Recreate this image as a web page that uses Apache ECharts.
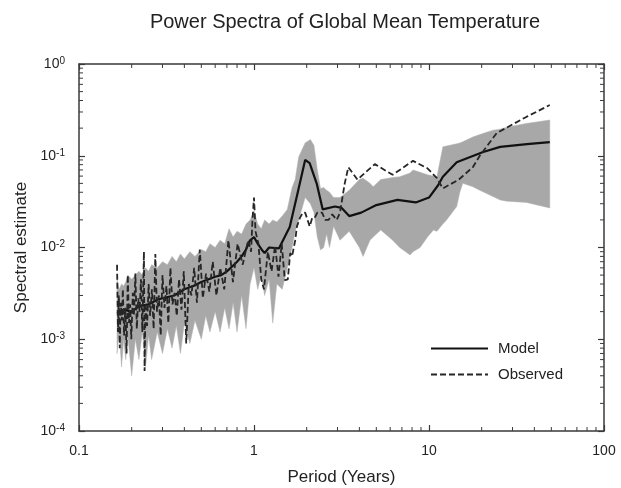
<!DOCTYPE html>
<html>
<head>
<meta charset="utf-8">
<script src="https://cdn.jsdelivr.net/npm/echarts@6/dist/echarts.min.js"></script>
<style>
html,body{margin:0;padding:0;background:#fff;}
#chart{width:621px;height:488px;}
</style>
</head>
<body>
<div id="chart"></div>
<script>
// ---- Data ----
const obsPeriod = [0.165,0.167,0.169,0.171,0.173,0.176,0.178,0.181,0.184,0.187,0.190,0.193,0.196,0.199,0.203,0.206,0.210,0.214,0.218,0.222,0.226,0.230,0.235,0.237,0.240,0.245,0.250,0.255,0.261,0.267,0.273,0.279,0.286,0.293,0.300,0.308,0.316,0.324,0.333,0.342,0.352,0.362,0.373,0.385,0.397,0.410,0.424,0.439,0.455,0.472,0.490,0.510,0.532,0.556,0.581,0.610,0.641,0.676,0.714,0.758,0.806,0.862,0.926,0.962,0.98,1.00,1.02,1.06,1.10,1.14,1.20,1.26,1.32,1.38,1.44,1.50,1.56,1.61,1.65,1.72,1.76,1.83,1.90,1.96,2.08,2.15,2.22,2.30,2.45,2.55,2.67,2.80,2.97,3.10,3.30,3.46,3.90,4.90,6.20,8.10,9.80,11.1,12.0,14.8,17.8,19.5,24.4,36.0,49.0];
const obsValue = [0.0065,0.0012,0.0030,0.0008,0.0025,0.0016,0.0035,0.0011,0.0022,0.0007,0.0050,0.0015,0.0024,0.0010,0.0032,0.0018,0.0052,0.0013,0.0028,0.0020,0.0045,0.0012,0.0090,0.00045,0.0025,0.0014,0.0040,0.0018,0.0035,0.0013,0.0085,0.0020,0.0030,0.0011,0.0050,0.0022,0.0038,0.0015,0.0060,0.0024,0.0032,0.0018,0.0045,0.0021,0.0055,0.0009,0.0040,0.0030,0.0060,0.0025,0.0095,0.0028,0.0052,0.0033,0.0070,0.0030,0.0060,0.0035,0.0120,0.0042,0.0110,0.0065,0.0120,0.0090,0.020,0.035,0.015,0.011,0.0045,0.0035,0.009,0.0055,0.0105,0.0048,0.011,0.0044,0.0045,0.0087,0.008,0.012,0.017,0.021,0.024,0.024,0.017,0.021,0.021,0.024,0.024,0.020,0.020,0.023,0.020,0.024,0.050,0.075,0.055,0.081,0.062,0.088,0.073,0.057,0.044,0.055,0.075,0.10,0.177,0.265,0.357];

const modelPeriod = [0.165,0.18,0.2,0.22,0.25,0.28,0.3,0.35,0.4,0.45,0.5,0.55,0.6,0.65,0.7,0.75,0.8,0.85,0.9,0.95,1.0,1.05,1.11,1.15,1.22,1.39,1.6,1.79,1.96,2.08,2.28,2.47,2.9,3.17,3.5,4.1,5.0,6.6,8.4,10.0,11.3,12.0,14.4,17.2,20.4,25.5,36.3,49.0];
const modelValue = [0.0019,0.0021,0.0020,0.0023,0.0024,0.0027,0.0028,0.0030,0.0035,0.0038,0.0042,0.0045,0.0048,0.0050,0.0055,0.0062,0.0070,0.0080,0.0095,0.012,0.013,0.011,0.0094,0.0087,0.010,0.0098,0.0167,0.042,0.090,0.083,0.050,0.026,0.028,0.027,0.022,0.024,0.029,0.033,0.031,0.035,0.048,0.059,0.085,0.097,0.110,0.125,0.134,0.141];

const bandPeriod = [0.165,0.170,0.175,0.180,0.185,0.190,0.200,0.210,0.220,0.230,0.240,0.250,0.260,0.280,0.300,0.320,0.340,0.360,0.380,0.400,0.430,0.460,0.500,0.530,0.560,0.600,0.640,0.680,0.720,0.760,0.800,0.850,0.900,0.950,1.000,1.050,1.100,1.150,1.220,1.280,1.350,1.450,1.550,1.650,1.720,1.800,1.960,2.100,2.200,2.300,2.400,2.500,2.600,2.700,2.850,3.100,3.500,4.000,4.200,4.600,4.800,5.300,6.200,6.800,7.800,8.100,8.900,9.800,10.60,11.10,12.00,12.60,14.40,15.00,15.60,17.80,19.50,23.20,25.50,27.90,36.00,49.00];
const bandLow = [0.0007,0.0012,0.0005,0.0010,0.0006,0.0011,0.0004,0.0010,0.0006,0.0012,0.0005,0.0011,0.0006,0.0012,0.0007,0.0013,0.0008,0.0014,0.0007,0.0015,0.0009,0.0016,0.0010,0.0018,0.0012,0.0020,0.0012,0.0022,0.0013,0.0025,0.0012,0.0030,0.0013,0.0040,0.0060,0.0035,0.0050,0.0030,0.0045,0.0015,0.0040,0.0035,0.0060,0.0100,0.0150,0.0200,0.0350,0.0300,0.0240,0.0130,0.0094,0.0100,0.0140,0.0100,0.0170,0.0120,0.0150,0.0100,0.0080,0.0120,0.0130,0.0155,0.0120,0.0100,0.0083,0.0090,0.0100,0.0130,0.0155,0.0150,0.0180,0.0200,0.0280,0.0400,0.0500,0.0460,0.0420,0.0360,0.0330,0.0320,0.0310,0.0270];
const bandHigh = [0.0045,0.0035,0.0040,0.0038,0.0042,0.0050,0.0045,0.0050,0.0055,0.0050,0.0060,0.0055,0.0065,0.0060,0.0070,0.0065,0.0080,0.0070,0.0085,0.0075,0.0090,0.0080,0.0095,0.0090,0.0110,0.0100,0.0120,0.0110,0.0160,0.0130,0.0150,0.0140,0.0180,0.0200,0.0250,0.0180,0.0160,0.0200,0.0180,0.0200,0.0190,0.0220,0.0260,0.0450,0.0550,0.0970,0.1380,0.1500,0.1300,0.0700,0.0440,0.0450,0.0420,0.0400,0.0350,0.0350,0.0420,0.0550,0.0570,0.0500,0.0460,0.0550,0.0580,0.0590,0.0650,0.0700,0.0660,0.0620,0.0600,0.0590,0.1250,0.1280,0.1350,0.1380,0.1420,0.1600,0.1700,0.1900,0.1950,0.2050,0.2250,0.2450];

const xMinor = [0.2,0.3,0.4,0.5,0.6,0.7,0.8,0.9,2,3,4,5,6,7,8,9,20,30,40,50,60,70,80,90];
const yMinor = [];
[1e-4,1e-3,1e-2,1e-1].forEach(d => { for (let k = 2; k <= 9; k++) yMinor.push(+(d*k).toPrecision(3)); });

const titleText = 'Power Spectra of Global Mean Temperature';
const xName = 'Period (Years)';
const yName = 'Spectral estimate';

// ---- Chart ----
const FONT = '"Liberation Sans", Arial, sans-serif';
const AXIS_COLOR = '#3a3a3a';
const chart = echarts.init(document.getElementById('chart'), null, {renderer: 'canvas'});

function xLabel(v) {
  const e = Math.round(Math.log10(v));
  return e < 0 ? Math.pow(10, e).toFixed(-e) : String(Math.round(Math.pow(10, e)));
}
function yLabel(v) {
  const e = Math.round(Math.log10(v));
  return '{b|10}{s|' + (e === 0 ? '0' : '-' + Math.abs(e)) + '}';
}

const baseX = {
  type: 'log', logBase: 10, min: 0.1, max: 100,
  axisLine: {show: true, onZero: false, lineStyle: {color: AXIS_COLOR, width: 1.5}},
  axisTick: {show: true, inside: true, length: 6, lineStyle: {color: AXIS_COLOR, width: 1.2}},
  splitLine: {show: false}, minorTick: {show: false}, minorSplitLine: {show: false}
};
const baseY = {
  type: 'log', logBase: 10, min: 1e-4, max: 1,
  axisLine: {show: true, onZero: false, lineStyle: {color: AXIS_COLOR, width: 1.5}},
  axisTick: {show: true, inside: true, length: 6, lineStyle: {color: AXIS_COLOR, width: 1.2}},
  splitLine: {show: false}, minorTick: {show: false}, minorSplitLine: {show: false}
};

function minorTickItem(v, api, horizontal) {
  const len = 4;
  const style = {stroke: AXIS_COLOR, lineWidth: 1};
  if (horizontal) {
    const b = api.coord([v, 1e-4]);
    const t = api.coord([v, 1]);
    return {type: 'group', children: [
      {type: 'line', shape: {x1: b[0], y1: b[1], x2: b[0], y2: b[1] - len}, style: style},
      {type: 'line', shape: {x1: t[0], y1: t[1], x2: t[0], y2: t[1] + len}, style: style}
    ]};
  }
  const l = api.coord([0.1, v]);
  const r = api.coord([100, v]);
  return {type: 'group', children: [
    {type: 'line', shape: {x1: l[0], y1: l[1], x2: l[0] + len, y2: l[1]}, style: style},
    {type: 'line', shape: {x1: r[0], y1: r[1], x2: r[0] - len, y2: r[1]}, style: style}
  ]};
}

const option = {
  backgroundColor: '#ffffff',
  animation: false,
  title: {
    text: titleText, left: 340, top: 7, textAlign: 'center',
    textStyle: {fontFamily: FONT, fontSize: 20, fontWeight: 'normal', color: '#222'}
  },
  legend: {
    data: ['Model', 'Observed'],
    orient: 'vertical', left: 425, top: 336,
    itemWidth: 57, itemHeight: 14, itemGap: 11,
    itemStyle: {opacity: 0, borderWidth: 0},
    textStyle: {fontFamily: FONT, fontSize: 15, color: '#222', padding: [0, 0, 0, 5]}
  },
  grid: {left: 79, right: 17, top: 64, bottom: 57, containLabel: false, outerBoundsMode: 'none'},
  xAxis: [
    Object.assign({}, baseX, {
      position: 'bottom',
      name: xName, nameLocation: 'middle', nameGap: 38,
      nameTextStyle: {fontFamily: FONT, fontSize: 17, color: '#222'},
      axisLabel: {fontFamily: FONT, fontSize: 14, color: '#222', margin: 13, formatter: xLabel, showMinLabel: true, showMaxLabel: true}
    }),
    Object.assign({}, baseX, {position: 'top', axisLabel: {show: false}})
  ],
  yAxis: [
    Object.assign({}, baseY, {
      position: 'left',
      name: yName, nameLocation: 'middle', nameGap: 40, nameRotate: 90,
      nameTextStyle: {fontFamily: FONT, fontSize: 17, color: '#222'},
      axisLabel: {
        fontFamily: FONT, margin: 14, formatter: yLabel, showMinLabel: true, showMaxLabel: true,
        rich: {
          b: {fontFamily: FONT, fontSize: 14, color: '#222', lineHeight: 16},
          s: {fontFamily: FONT, fontSize: 10, color: '#222', verticalAlign: 'top', lineHeight: 10}
        }
      }
    }),
    Object.assign({}, baseY, {position: 'right', axisLabel: {show: false}})
  ],
  series: [
    {
      name: 'Band', type: 'custom', silent: true, clip: false, z: 1,
      data: bandPeriod.map((p, i) => [p, bandLow[i], bandHigh[i]]),
      encode: {x: 0, y: [1, 2]},
      renderItem: function (params, api) {
        if (params.dataIndex !== 0) return {type: 'group', children: []};
        const pts = [];
        for (let i = 0; i < bandPeriod.length; i++) pts.push(api.coord([bandPeriod[i], bandHigh[i]]));
        for (let i = bandPeriod.length - 1; i >= 0; i--) pts.push(api.coord([bandPeriod[i], bandLow[i]]));
        return {type: 'polygon', shape: {points: pts}, style: {fill: '#a8a8a8', stroke: '#b0b0b0', lineWidth: 0.5}};
      }
    },
    {
      name: 'Model', type: 'line', symbol: 'none', z: 3,
      data: modelPeriod.map((p, i) => [p, modelValue[i]]),
      lineStyle: {color: '#111', width: 2.2}, itemStyle: {color: '#111'}
    },
    {
      name: 'Observed', type: 'line', symbol: 'none', z: 4,
      data: obsPeriod.map((p, i) => [p, obsValue[i]]),
      lineStyle: {color: '#262626', width: 1.8, type: [6, 3]}, itemStyle: {color: '#262626'}
    },
    {
      name: 'xMinorTicks', type: 'custom', silent: true, clip: false, z: 5,
      data: xMinor.map(v => [v, 1e-4]),
      encode: {x: 0, y: 1},
      renderItem: (params, api) => minorTickItem(api.value(0), api, true)
    },
    {
      name: 'yMinorTicks', type: 'custom', silent: true, clip: false, z: 5,
      data: yMinor.map(v => [0.1, v]),
      encode: {x: 0, y: 1},
      renderItem: (params, api) => minorTickItem(api.value(1), api, false)
    }
  ]
};
chart.setOption(option);
</script>
</body>
</html>
